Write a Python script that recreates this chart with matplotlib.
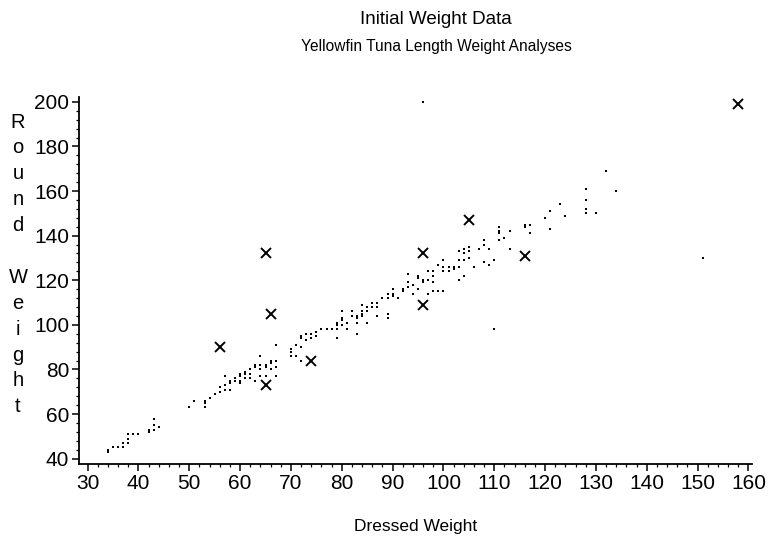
import matplotlib.pyplot as plt
from matplotlib.ticker import MultipleLocator

plt.rcParams['font.family'] = ['Liberation Sans', 'DejaVu Sans']

# dressed weight / round weight pairs for the bulk of the fish
dressed = [34, 34, 35, 36, 37, 37, 38, 38, 38, 39, 40, 42, 42, 43, 43, 43, 44,
           50, 51, 53, 53, 53, 54, 55, 56, 56, 57, 57, 57, 58, 58, 58, 59, 59,
           60, 60, 60, 60, 61, 61, 61, 62, 62, 62, 63, 63, 63, 64, 64, 64, 64,
           65, 65, 65, 66, 66, 66, 67, 67, 67, 67, 70, 70, 70, 71, 71, 72, 72,
           72, 72, 73, 73, 74, 74, 75, 75, 76, 77, 78, 79, 79, 79, 79, 80, 80,
           80, 80, 81, 81, 82, 82, 83, 83, 83, 83, 84, 84, 84, 84, 85, 85, 85,
           86, 86, 87, 87, 87, 88, 89, 89, 89, 89, 90, 90, 90, 91, 92, 92, 93,
           93, 93, 94, 94, 95, 95, 95, 96, 96, 97, 97, 97, 98, 98, 98, 98, 99,
           99, 100, 100, 100, 100, 101, 101, 102, 102, 103, 103, 103, 103, 104,
           104, 104, 104, 105, 105, 105, 106, 107, 108, 108, 108, 109, 109, 110,
           111, 111, 111, 111, 112, 113, 113, 116, 116, 117, 117, 120, 121, 121,
           123, 124, 128, 128, 128, 128, 130, 132, 134,
           96, 110, 151]
round_wt = [43, 44, 45, 45, 45, 47, 47, 49, 51, 51, 51, 52, 53, 53, 58, 55, 54,
            63, 66, 63, 65, 66, 67, 69, 70, 72, 71, 73, 77, 71, 74, 75, 75, 76,
            74, 75, 77, 78, 76, 78, 79, 76, 78, 80, 75, 81, 82, 77, 80, 82, 86,
            77, 81, 82, 80, 83, 84, 77, 81, 84, 91, 86, 88, 89, 86, 91, 84, 90,
            94, 95, 93, 96, 94, 96, 95, 97, 98, 98, 98, 94, 98, 100, 101, 100,
            102, 103, 106, 98, 101, 104, 106, 96, 101, 103, 104, 104, 105, 106,
            109, 101, 106, 108, 108, 110, 104, 108, 110, 112, 103, 105, 112,
            114, 113, 114, 116, 112, 115, 116, 117, 119, 123, 114, 118, 116,
            121, 122, 119, 120, 114, 120, 124, 115, 119, 122, 124, 115, 127,
            115, 124, 126, 129, 124, 126, 125, 126, 120, 126, 129, 133, 122,
            129, 132, 134, 130, 133, 135, 126, 134, 128, 136, 138, 127, 134,
            129, 138, 141, 142, 144, 139, 134, 142, 144, 145, 141, 145, 148,
            143, 151, 154, 149, 150, 152, 156, 161, 150, 169, 160,
            200, 98, 130]

# points flagged as outliers
out_dressed = [56, 65, 66, 65, 74, 96, 96, 105, 116, 158]
out_round = [90, 132, 105, 73, 84, 132, 109, 147, 131, 199]

fig = plt.figure(figsize=(7.68, 5.46), dpi=100)
ax = fig.add_axes([0.1029, 0.1502, 0.8763, 0.6722])

ax.scatter(dressed, round_wt, marker='s', s=2.6, color='black', linewidths=0)
ax.plot(out_dressed, out_round, 'x', color='black', ms=7, mew=1.4)

ax.set_xlim(28.3, 160.7)
ax.set_ylim(37.6, 202.2)
ax.xaxis.set_major_locator(MultipleLocator(10))
ax.xaxis.set_minor_locator(MultipleLocator(2))
ax.yaxis.set_major_locator(MultipleLocator(20))
ax.yaxis.set_minor_locator(MultipleLocator(4))

for side in ['top', 'right']:
    ax.spines[side].set_visible(False)
for side in ['left', 'bottom']:
    ax.spines[side].set_linewidth(1.3)

ax.tick_params(which='major', direction='out', length=5, width=1.1,
               labelsize=15, pad=2)
ax.tick_params(which='minor', direction='out', length=2.5, width=0.9)

ax.set_xlabel('Dressed Weight', fontsize=12.5, labelpad=19)

# vertical, letter-by-letter axis title
ylabel = 'Round Weight'
for i, ch in enumerate(ylabel):
    fig.text(18 / 768, 1 - (122 + i * 25.9) / 546, ch, fontsize=14.5,
             ha='center', va='center')

fig.text(436 / 768, 1 - 20 / 546, 'Initial Weight Data', fontsize=13.5,
         ha='center', va='center')
fig.text(436 / 768, 1 - 47 / 546, 'Yellowfin Tuna Length Weight Analyses',
         fontsize=11.2, ha='center', va='center')

fig.savefig('out.png', dpi=100)
